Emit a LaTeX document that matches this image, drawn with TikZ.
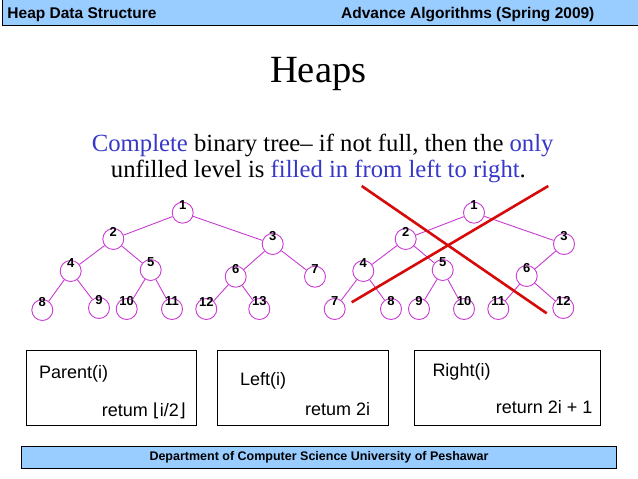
\documentclass[tikz,border=0pt]{standalone}
\usepackage{fontspec}
\setmainfont{Liberation Serif}
\setsansfont{Liberation Sans}
\newfontfamily\arialf{Liberation Sans}
\newfontfamily\dejavuf{DejaVu Sans}
\definecolor{barblue}{RGB}{153,204,255}
\definecolor{txtblue}{RGB}{55,55,200}
\definecolor{nodepurple}{RGB}{200,60,210}
\definecolor{crossred}{RGB}{215,10,10}
\tikzset{
  hnode/.style={circle, draw=nodepurple, line width=0.9pt, minimum size=21pt, inner sep=0pt},
  hedge/.style={draw=nodepurple, line width=0.9pt},
  hlab/.style={font=\arialf\bfseries\fontsize{13}{13}\selectfont, inner sep=0pt},
  crossline/.style={draw=crossred, line width=2.6pt},
  fbox/.style={draw=black, line width=0.9pt, fill=white},
  boxtext/.style={font=\arialf\fontsize{18}{18}\selectfont, inner sep=0pt, anchor=base west},
}
\newcommand{\hn}[4]{\node[hnode] (#1) at (#2,#3) {};
  \node[hlab] at ([yshift=7.5pt]#1.center) {#4};}
\begin{document}
\begin{tikzpicture}[x=1pt,y=-1pt]
\useasboundingbox (0,0) rectangle (638,479);
% top bar
\draw[fill=barblue, line width=1pt] (2.7,-5) rectangle (645,25);
\node[font=\arialf\bfseries\fontsize{15.5}{15.5}\selectfont, anchor=base west, inner sep=0pt] (hdl) at (7.3,18.3) {Heap Data Structure};
\node[font=\arialf\bfseries\fontsize{15.5}{15.5}\selectfont, anchor=base west, inner sep=0pt] (hdr) at (341,18.3) {Advance Algorithms (Spring 2009)};
% title
\node[font=\fontsize{38.5}{38.5}\selectfont, anchor=base, inner sep=0pt] (title) at (318.3,82.7) {Heaps};
\node[font=\fontsize{24.7}{24.7}\selectfont, anchor=base west, inner sep=0pt] (l1) at (91.7,151.7) {\textcolor{txtblue}{Complete} binary tree– if not full, then the \textcolor{txtblue}{only}};
\node[font=\fontsize{24.7}{24.7}\selectfont, anchor=base west, inner sep=0pt] (l2) at (110.7,177.3) {unfilled level is \textcolor{txtblue}{filled in from left to right}.};
% left tree
\hn{a1}{182.7}{212.7}{1}
\hn{a2}{113.3}{239}{2}
\hn{a3}{272.7}{244}{3}
\hn{a4}{70.7}{271}{4}
\hn{a5}{150.7}{270}{5}
\hn{a6}{235.7}{276.7}{6}
\hn{a7}{315}{276.7}{7}
\hn{a8}{42.3}{310}{8}
\hn{a9}{99}{308}{9}
\hn{a10}{126.7}{309}{10}
\hn{a11}{172}{309}{11}
\hn{a12}{206.3}{309}{12}
\hn{a13}{259.3}{309}{13}
\foreach \p/\c in {a1/a2,a1/a3,a2/a4,a2/a5,a3/a6,a3/a7,a4/a8,a4/a9,a5/a10,a5/a11,a6/a12,a6/a13}
  \draw[hedge] (\p) -- (\c);
% right tree
\hn{b1}{474}{212.7}{1}
\hn{b2}{405.7}{239}{2}
\hn{b3}{564}{244}{3}
\hn{b4}{363.3}{271}{4}
\hn{b5}{442.7}{270}{5}
\hn{b6}{526.7}{276}{6}
\hn{b7}{334.7}{309}{7}
\hn{b8}{391}{309}{8}
\hn{b9}{419}{309}{9}
\hn{b10}{464}{309}{10}
\hn{b11}{498.3}{309}{11}
\hn{b12}{563.3}{308}{12}
\foreach \p/\c in {b1/b2,b1/b3,b2/b4,b2/b5,b3/b6,b4/b7,b4/b8,b5/b9,b5/b10,b6/b11,b6/b12}
  \draw[hedge] (\p) -- (\c);
% cross
\coordinate (xa1) at (361.7,186);
\coordinate (xa2) at (546.7,313.3);
\coordinate (xb1) at (351.7,302.3);
\coordinate (xb2) at (548.3,186);
\draw[crossline] (xa1) -- (xa2);
\draw[crossline] (xb1) -- (xb2);
% boxes
\draw[fbox] (26.7,350.7) rectangle (196,425);
\node[boxtext] (p1) at (39,378) {Parent(i)};
\node[boxtext] (p2) at (101.7,416.7) {retum {\dejavuf ⌊}i/2{\dejavuf ⌋}};
\draw[fbox] (217.3,350.7) rectangle (388.3,425);
\node[boxtext] (q1) at (240,385) {Left(i)};
\node[boxtext] (q2) at (305,415) {retum 2i};
\draw[fbox] (414.3,350.7) rectangle (600,425);
\node[boxtext] (r1) at (432.3,376.7) {Right(i)};
\node[boxtext] (r2) at (495.7,413.3) {return 2i + 1};
% bottom bar
\draw[fill=barblue, line width=1pt] (21.3,446) rectangle (616,468.3);
\node[font=\arialf\bfseries\fontsize{12.5}{12.5}\selectfont, inner sep=0pt] (foot) at (319,457.5) {Department of Computer Science University of Peshawar};
\end{tikzpicture}
\end{document}
